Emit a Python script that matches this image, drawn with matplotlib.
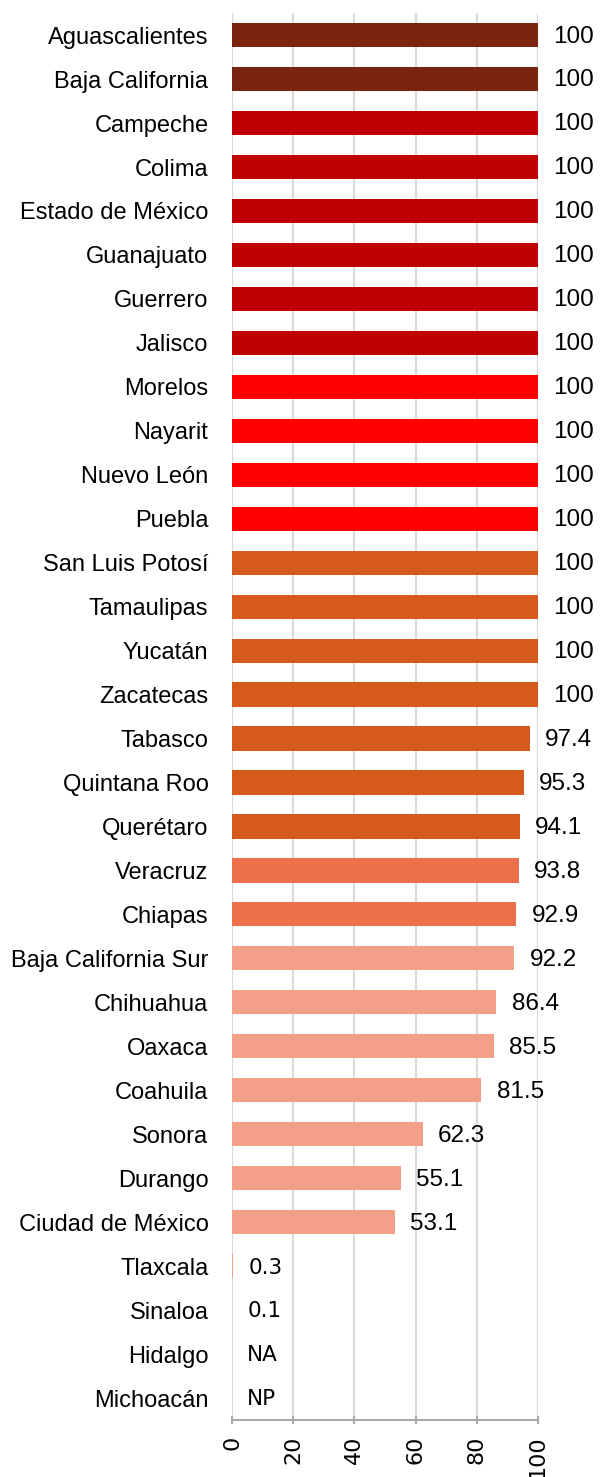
import matplotlib.pyplot as plt

# States, in order top to bottom
states = [
    "Aguascalientes", "Baja California", "Campeche", "Colima", "Estado de México",
    "Guanajuato", "Guerrero", "Jalisco", "Morelos", "Nayarit", "Nuevo León", "Puebla",
    "San Luis Potosí", "Tamaulipas", "Yucatán", "Zacatecas", "Tabasco", "Quintana Roo",
    "Querétaro", "Veracruz", "Chiapas", "Baja California Sur", "Chihuahua", "Oaxaca",
    "Coahuila", "Sonora", "Durango", "Ciudad de México", "Tlaxcala", "Sinaloa",
    "Hidalgo", "Michoacán",
]
values = [
    100, 100, 100, 100, 100, 100, 100, 100, 100, 100, 100, 100,
    100, 100, 100, 100, 97.4, 95.3, 94.1, 93.8, 92.9, 92.2, 86.4, 85.5,
    81.5, 62.3, 55.1, 53.1, 0.3, 0.1, None, None,
]
labels = [
    "100", "100", "100", "100", "100", "100", "100", "100", "100", "100", "100", "100",
    "100", "100", "100", "100", "97.4", "95.3", "94.1", "93.8", "92.9", "92.2", "86.4", "85.5",
    "81.5", "62.3", "55.1", "53.1", "0.3", "0.1", "NA", "NP",
]
colors = (["#7B2410"] * 2 + ["#C00000"] * 6 + ["#FF0000"] * 4 + ["#D55A1B"] * 7
          + ["#EE6F4C"] * 2 + ["#F4A088"] * 9)
ticks = [0, 20, 40, 60, 80, 100]

fig = plt.figure(figsize=(6, 14.77), dpi=100)
ax = fig.add_axes([0.3867, 0.0386, 0.51, 0.9525])

pos = list(range(len(states)))
bar_vals = [v if v is not None else 0 for v in values]
ax.barh(pos, bar_vals, height=0.55, color=colors, zorder=3)

for y, v, lab in zip(pos, bar_vals, labels):
    fam = "Liberation Sans" if v >= 50 else "DejaVu Sans"
    size = 17.5 if v >= 50 else 15.5
    ax.annotate(lab, (v, y), xytext=(11, -1), textcoords="offset points",
                va="center", ha="left", fontsize=size, family=fam, color="#000000")

ax.set_ylim(len(states) - 0.5, -0.5)
ax.set_xlim(0, 100)
ax.set_yticks(pos)
ax.set_yticklabels(states, family="Liberation Sans", fontsize=17)
ax.set_xticks(ticks)
ax.set_xticklabels([str(t) for t in ticks], rotation=90, fontsize=16, family="DejaVu Sans")
ax.tick_params(axis="y", length=0, pad=17)
ax.tick_params(axis="x", length=6, color="#AAAAAA", width=1.5, direction="inout", pad=8)

ax.grid(axis="x", color="#D9D9D9", linewidth=1.5, zorder=0)
for s in ["top", "right", "left"]:
    ax.spines[s].set_visible(False)
ax.spines["bottom"].set_color("#AAAAAA")
ax.spines["bottom"].set_linewidth(1.5)

fig.savefig("out.png", dpi=100)
